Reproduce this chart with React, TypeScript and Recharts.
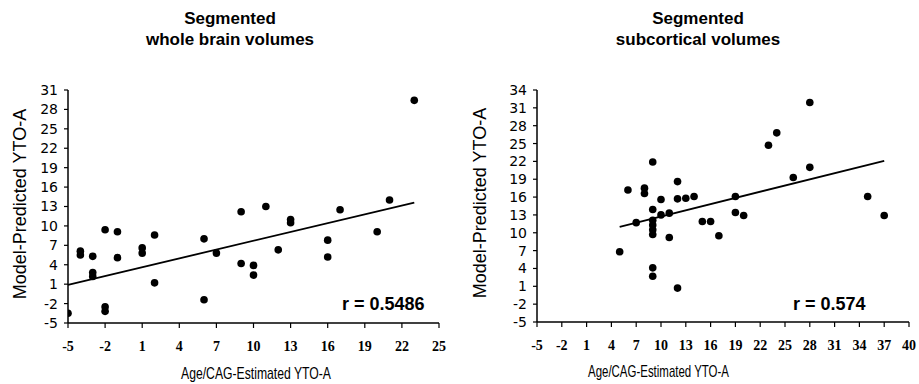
import React from 'react';
import { ScatterChart, Scatter, XAxis, YAxis, ReferenceLine } from 'recharts';

// Left panel: segmented whole brain volumes
const leftX = [-5, -4, -4, -3, -3, -3, -2, -2, -2, -1, -1, 1, 1, 2, 2, 6, 6, 7, 9, 9, 10, 10, 11, 12, 13, 13, 16, 16, 17, 20, 21, 23];
const leftY = [-3.5, 6.1, 5.5, 5.3, 2.8, 2.2, 9.4, -2.5, -3.2, 9.1, 5.1, 6.6, 5.8, 8.6, 1.2, 8.0, -1.4, 5.8, 12.2, 4.2, 3.9, 2.4, 13.0, 6.3, 11.0, 10.5, 7.8, 5.2, 12.5, 9.1, 14.0, 29.4];
const leftFitX = [-5, 23];
const leftFitY = [0.9, 13.6];
const leftXTicks = [-5, -2, 1, 4, 7, 10, 13, 16, 19, 22, 25];
const leftYTicks = [-5, -2, 1, 4, 7, 10, 13, 16, 19, 22, 25, 28, 31];

// Right panel: segmented subcortical volumes
const rightX = [5, 6, 7, 8, 8, 9, 9, 9, 9, 9, 9, 9, 9, 10, 10, 11, 11, 12, 12, 12, 13, 14, 15, 16, 17, 19, 19, 20, 23, 24, 26, 28, 28, 35, 37];
const rightY = [6.8, 17.2, 11.7, 17.5, 16.6, 21.9, 13.9, 12.1, 11.3, 10.5, 9.7, 4.1, 2.7, 15.6, 13.0, 13.3, 9.2, 18.6, 15.7, 0.7, 15.8, 16.1, 11.9, 11.9, 9.5, 16.1, 13.4, 12.9, 24.7, 26.8, 19.3, 31.9, 21.0, 16.1, 12.9];
const rightFitX = [5, 37];
const rightFitY = [11.0, 22.1];
const rightXTicks = [-5, -2, 1, 4, 7, 10, 13, 16, 19, 22, 25, 28, 31, 34, 37, 40];
const rightYTicks = [-5, -2, 1, 4, 7, 10, 13, 16, 19, 22, 25, 28, 31, 34];

const titles = ['Segmented', 'whole brain volumes', 'subcortical volumes'];
const yTitle = 'Model-Predicted YTO-A';
const xTitle = 'Age/CAG-Estimated YTO-A';
const rLabels = ['r = 0.5486', 'r = 0.574'];

const leftData = leftX.map((x, i) => ({ x, y: leftY[i] }));
const rightData = rightX.map((x, i) => ({ x, y: rightY[i] }));

const SANS = '"Liberation Sans", Arial, sans-serif';

const Dot = (p: any) => <circle cx={p.cx} cy={p.cy} r={3.8} fill="#000" />;

const axisLine = { stroke: '#000', strokeWidth: 1.5 };
const tickLine = { stroke: '#000', strokeWidth: 1.2 };
const xTick = { fill: '#000', fontSize: 14, fontWeight: 'bold', fontFamily: '"Liberation Serif", "Times New Roman", serif' };
const yTick = { fill: '#000', fontSize: 14, fontFamily: '"DejaVu Sans", Verdana, sans-serif' };

function Panel(props: {
  data: { x: number; y: number }[];
  xDomain: [number, number];
  yDomain: [number, number];
  xTicks: number[];
  yTicks: number[];
  fitX: number[];
  fitY: number[];
  width: number;
  yAxisWidth: number;
  right: number;
  xAxisHeight: number;
}) {
  return (
    <ScatterChart
      width={props.width}
      height={384}
      margin={{ top: 90, right: props.right, bottom: 0, left: 0 }}
    >
      <XAxis
        type="number"
        dataKey="x"
        domain={props.xDomain}
        ticks={props.xTicks}
        interval={0}
        allowDataOverflow
        axisLine={axisLine}
        tickLine={tickLine}
        tickSize={5}
        tickMargin={13}
        tick={xTick}
        height={props.xAxisHeight}
      />
      <YAxis
        type="number"
        dataKey="y"
        domain={props.yDomain}
        ticks={props.yTicks}
        interval={0}
        allowDataOverflow
        axisLine={axisLine}
        tickLine={tickLine}
        tickSize={4}
        tickMargin={6}
        tick={yTick}
        width={props.yAxisWidth}
      />
      <ReferenceLine
        segment={[
          { x: props.fitX[0], y: props.fitY[0] },
          { x: props.fitX[1], y: props.fitY[1] },
        ]}
        stroke="#000"
        strokeWidth={1.8}
        ifOverflow="visible"
      />
      <Scatter data={props.data} shape={Dot} isAnimationActive={false} />
    </ScatterChart>
  );
}

export default function App() {
  return (
    <div style={{ position: 'absolute', left: 0, top: 0, width: 919, height: 384, background: '#fff' }}>
      <div style={{ position: 'absolute', left: 0, top: 0 }}>
        <Panel
          data={leftData}
          xDomain={[-5, 25]}
          yDomain={[-5, 31]}
          xTicks={leftXTicks}
          yTicks={leftYTicks}
          fitX={leftFitX}
          fitY={leftFitY}
          width={460}
          yAxisWidth={68}
          right={21}
          xAxisHeight={61}
        />
      </div>
      <div style={{ position: 'absolute', left: 460, top: 0 }}>
        <Panel
          data={rightData}
          xDomain={[-5, 40]}
          yDomain={[-5, 34]}
          xTicks={rightXTicks}
          yTicks={rightYTicks}
          fitX={rightFitX}
          fitY={rightFitY}
          width={459}
          yAxisWidth={77}
          right={10}
          xAxisHeight={62}
        />
      </div>
      <svg
        width={919}
        height={384}
        style={{ position: 'absolute', left: 0, top: 0, pointerEvents: 'none' }}
      >
        <g fontFamily={SANS} fill="#000">
          <text x={230} y={24} textAnchor="middle" fontSize={17} fontWeight="bold">{titles[0]}</text>
          <text x={230} y={45} textAnchor="middle" fontSize={17} fontWeight="bold">{titles[1]}</text>
          <text x={698} y={24} textAnchor="middle" fontSize={17} fontWeight="bold">{titles[0]}</text>
          <text x={698} y={45} textAnchor="middle" fontSize={17} fontWeight="bold">{titles[2]}</text>

          <text transform="translate(26,204) rotate(-90)" textAnchor="middle" fontSize={18}>{yTitle}</text>
          <text transform="translate(486,203) rotate(-90)" textAnchor="middle" fontSize={18}>{yTitle}</text>

          <text x={181} y={379} fontSize={17} textLength={150} lengthAdjust="spacingAndGlyphs">{xTitle}</text>
          <text x={588} y={377} fontSize={17} textLength={141} lengthAdjust="spacingAndGlyphs">{xTitle}</text>

          <text x={342} y={310} fontSize={18} fontWeight="bold">{rLabels[0]}</text>
          <text x={793} y={310} fontSize={18} fontWeight="bold">{rLabels[1]}</text>
        </g>
      </svg>
    </div>
  );
}
